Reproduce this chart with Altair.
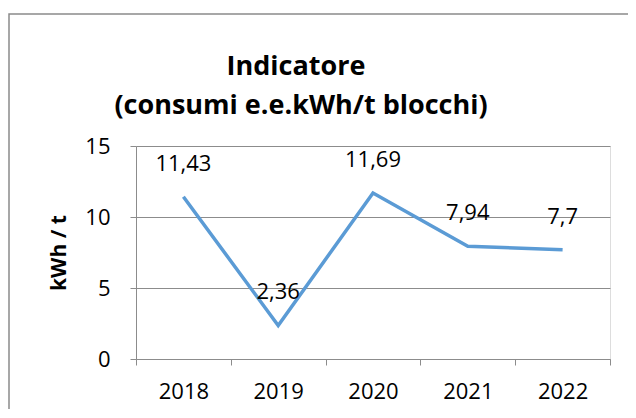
import altair as alt
import pandas as pd

years = ["2018", "2019", "2020", "2021", "2022"]
values = [11.43, 2.36, 11.69, 7.94, 7.7]
labels = ["11,43", "2,36", "11,69", "7,94", "7,7"]
title_lines = ["Indicatore", "(consumi e.e.kWh/t blocchi)"]

df = pd.DataFrame({"anno": years, "valore": values, "etichetta": labels})

FONT = "Open Sans"
LINE_COLOR = "#5B9BD5"
GRAY = "#8c8c8c"

x_enc = alt.X("anno:N", sort=years, title=None,
              scale=alt.Scale(paddingInner=0, paddingOuter=0),
              axis=alt.Axis(labelAngle=0, labelFont=FONT, labelFontSize=22,
                            labelColor="#000000", labelPadding=16,
                            tickBand="extent", tickSize=6, tickColor=GRAY,
                            domainColor=GRAY, grid=False))
y_enc = alt.Y("valore:Q", title="kWh / t",
              scale=alt.Scale(domain=[0, 15], nice=False),
              axis=alt.Axis(values=[0, 5, 10, 15], labelFont=FONT,
                            labelFontSize=22, labelColor="#000000",
                            labelPadding=20, tickSize=6, tickColor=GRAY,
                            domainColor=GRAY, gridColor=GRAY,
                            titleFont=FONT, titleFontSize=21,
                            titleFontWeight="bold", titleColor="#000000",
                            titlePadding=15))

line = alt.Chart(df).mark_line(color=LINE_COLOR, strokeWidth=3.5).encode(
    x=x_enc, y=y_enc)

text = alt.Chart(df).mark_text(font=FONT, fontSize=22, color="#000000",
                               baseline="middle", dy=-33).encode(
    x=alt.X("anno:N", sort=years), y="valore:Q", text="etichetta:N")

one = pd.DataFrame({"b": [0]})

border = alt.Chart(one).mark_rect(
    fill=None, stroke="#8a8a8a", strokeWidth=1.5).encode(
    x=alt.value(-127), x2=alt.value(700), y=alt.value(-132), y2=alt.value(500))

title1 = alt.Chart(one).mark_text(
    font=FONT, fontSize=27, fontWeight="bold", color="#000000",
    baseline="middle", align="center").encode(
    x=alt.value(160), y=alt.value(-79), text=alt.value(title_lines[0]))

title2 = alt.Chart(one).mark_text(
    font=FONT, fontSize=27, fontWeight="bold", color="#000000",
    baseline="middle", align="center").encode(
    x=alt.value(165), y=alt.value(-40), text=alt.value(title_lines[1]))

chart = alt.layer(border, line, text, title1, title2).properties(
    width=474, height=213,
    autosize=alt.AutoSizeParams(type="none"),
    padding={"left": 128, "top": 138, "right": 18, "bottom": 50},
).configure_view(stroke=None).configure(background="white")

chart.save("out.html", embed_options={"renderer": "svg", "actions": False})
